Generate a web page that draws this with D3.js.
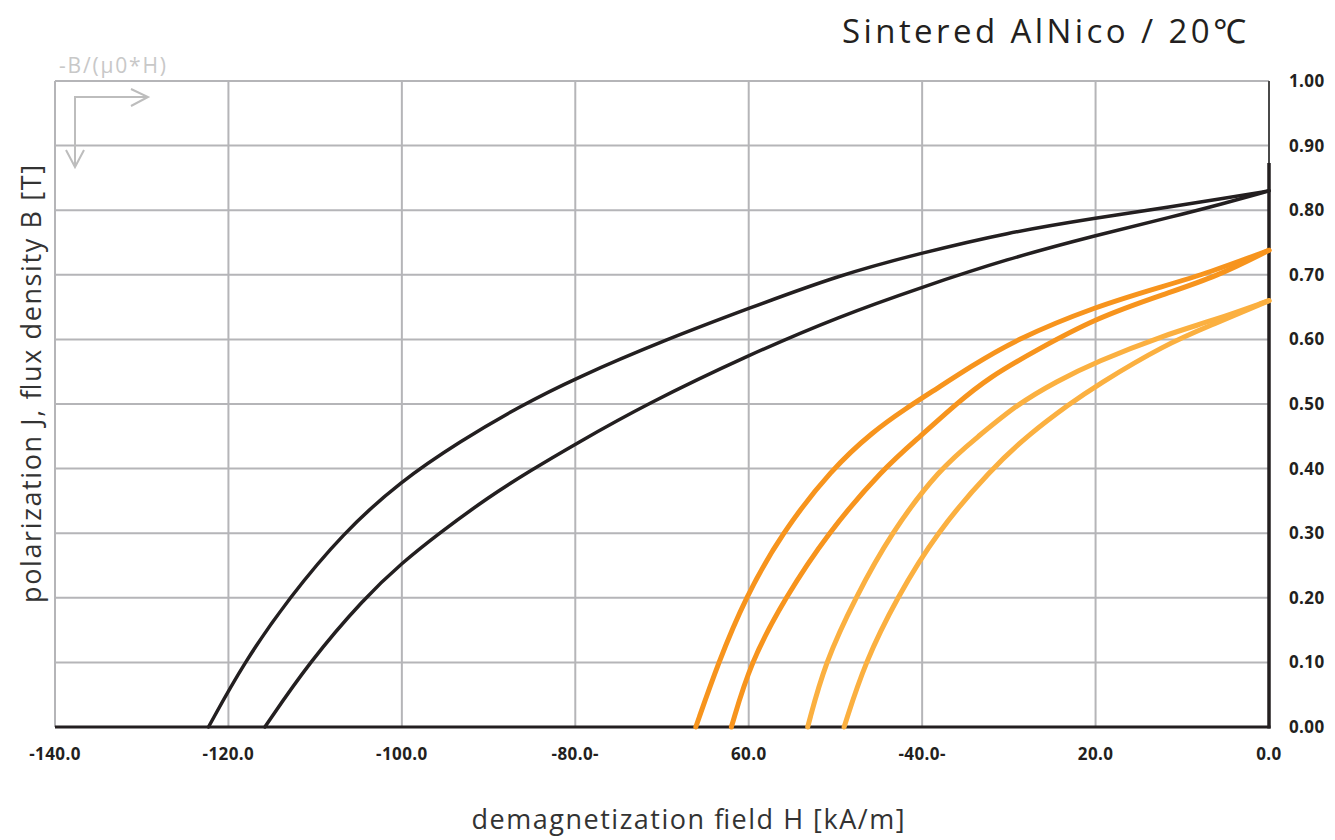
<!DOCTYPE html>
<html lang="en">
<head>
  <meta charset="UTF-8">
  <title>Sintered AlNico / 20℃</title>
  <script src="https://d3js.org/d3.v7.min.js"></script>
  <style>
    body {
      margin: 0;
      background: #fff;
      font-family: "Open Sans", "Noto Sans", sans-serif;
    }
    svg { display: block; }
    .grid line { stroke: #b5b5b8; stroke-width: 2; }
    .tick-label { font-weight: bold; font-size: 17px; fill: #231f20; letter-spacing: 0.4px; }
  </style>
</head>
<body>
  <svg id="chart" width="1335" height="840"></svg>

  <script>
    // ---- data: [H kA/m, B T] ----
    const blackOuter = [[-122.3, 0], [-118.2, 0.1], [-113.0, 0.2], [-106.8, 0.3], [-100.2, 0.38],
      [-93.2, 0.443], [-86.6, 0.495], [-80, 0.54], [-69.5, 0.6], [-60, 0.648], [-49.5, 0.7],
      [-40, 0.734], [-30.3, 0.765], [-20, 0.788], [-11, 0.806], [-5.3, 0.818], [0, 0.83]];
    const blackInner = [[-115.8, 0], [-110.7, 0.1], [-104.3, 0.2], [-100, 0.254], [-95.7, 0.3],
      [-90, 0.356], [-85.3, 0.396], [-80, 0.438], [-71.8, 0.5], [-60, 0.576], [-49.5, 0.636],
      [-40, 0.681], [-30.3, 0.724], [-20, 0.761], [-11.1, 0.79], [-5.3, 0.81], [0, 0.83]];
    const orangeOuter = [[-66.1, 0], [-63.5, 0.1], [-60.4, 0.2], [-56.2, 0.3], [-50.4, 0.4],
      [-45.6, 0.458], [-42.0, 0.492], [-38.4, 0.523], [-34.5, 0.557], [-29.2, 0.6],
      [-20, 0.651], [-12, 0.683], [-7, 0.703], [0, 0.738]];
    const orangeInner = [[-62.0, 0], [-59.8, 0.1], [-55.8, 0.2], [-50.9, 0.3], [-44.5, 0.4],
      [-40.2, 0.45], [-36.1, 0.5], [-32.2, 0.542], [-27, 0.582], [-20, 0.633],
      [-11.9, 0.671], [-6.1, 0.697], [0, 0.738]];
    const lightOuter = [[-53.2, 0], [-51.2, 0.1], [-47.7, 0.2], [-43.6, 0.3], [-38.0, 0.4],
      [-33.5, 0.45], [-29.0, 0.5], [-24.5, 0.535], [-20, 0.565], [-12, 0.607], [-6.5, 0.629],
      [0, 0.66]];
    const lightInner = [[-49.0, 0], [-46.6, 0.1], [-42.9, 0.2], [-38.4, 0.3], [-32.0, 0.4],
      [-27.5, 0.455], [-23.0, 0.5], [-20, 0.528], [-12, 0.592], [-6.5, 0.623], [0, 0.66]];

    const xTicks = [-140, -120, -100, -80, -60, -40, -20, 0];
    const xTickLabels = ["-140.0", "-120.0", "-100.0", "-80.0-", "60.0", "-40.0-", "20.0", "0.0"];
    const yTicks = [0, 0.1, 0.2, 0.3, 0.4, 0.5, 0.6, 0.7, 0.8, 0.9, 1.0];

    const svg = d3.select("#chart");

    // scales: plot area 55..1269 x 81..727
    const x = d3.scaleLinear().domain([-140, 0]).range([55, 1269]);
    const y = d3.scaleLinear().domain([0, 1]).range([727, 81]);

    // grid
    const grid = svg.append("g").attr("class", "grid");
    grid.selectAll(".gx").data(xTicks).enter().append("line")
      .attr("x1", d => x(d)).attr("x2", d => x(d))
      .attr("y1", y(1)).attr("y2", y(0));
    grid.selectAll(".gy").data(yTicks).enter().append("line")
      .attr("x1", x(-140)).attr("x2", x(0))
      .attr("y1", d => y(d)).attr("y2", d => y(d));

    // bottom axis line and right axis line
    svg.append("line")
      .attr("x1", x(-140)).attr("x2", x(0) + 1.5)
      .attr("y1", y(0)).attr("y2", y(0))
      .attr("stroke", "#231f20").attr("stroke-width", 3);
    svg.append("line")
      .attr("x1", x(0)).attr("x2", x(0))
      .attr("y1", y(1)).attr("y2", y(0.87))
      .attr("stroke", "#4a4a4a").attr("stroke-width", 2);
    svg.append("line")
      .attr("x1", x(0)).attr("x2", x(0))
      .attr("y1", y(0.873)).attr("y2", y(0) + 1.5)
      .attr("stroke", "#231f20").attr("stroke-width", 3.5);

    // tick labels
    svg.selectAll(".xl").data(xTicks).enter().append("text")
      .attr("class", "tick-label")
      .attr("x", d => x(d)).attr("y", 760)
      .attr("text-anchor", "middle")
      .text((d, i) => xTickLabels[i]);
    svg.selectAll(".yl").data(yTicks).enter().append("text")
      .attr("class", "tick-label")
      .attr("x", 1289).attr("y", d => y(d))
      .attr("dy", "0.35em")
      .text(d => d.toFixed(2));

    // curves: B-spline through the read points smooths out reading noise
    const line = d3.line()
      .x(d => x(d[0]))
      .y(d => y(d[1]))
      .curve(d3.curveBasis);

    const curves = [
      { data: blackOuter, color: "#231f20", width: 3.5 },
      { data: blackInner, color: "#231f20", width: 3.5 },
      { data: lightOuter, color: "#fbb040", width: 5 },
      { data: lightInner, color: "#fbb040", width: 5 },
      { data: orangeOuter, color: "#f7941d", width: 5 },
      { data: orangeInner, color: "#f7941d", width: 5 }
    ];
    curves.forEach(c => {
      svg.append("path")
        .datum(c.data)
        .attr("fill", "none")
        .attr("stroke", c.color)
        .attr("stroke-width", c.width)
        .attr("stroke-linecap", "round")
        .attr("stroke-linejoin", "round")
        .attr("d", line);
    });

    // title
    svg.append("text")
      .attr("x", 1246).attr("y", 43)
      .attr("text-anchor", "end")
      .attr("font-size", 33)
      .attr("fill", "#231f20")
      .attr("textLength", 404)
      .attr("lengthAdjust", "spacing")
      .text("Sintered AlNico / 20℃");

    // axis titles
    svg.append("text")
      .attr("transform", "translate(41,384) rotate(-90)")
      .attr("text-anchor", "middle")
      .attr("font-size", 27)
      .attr("fill", "#333")
      .attr("textLength", 438)
      .attr("lengthAdjust", "spacing")
      .text("polarization J, flux density B [T]");
    svg.append("text")
      .attr("x", 688).attr("y", 829)
      .attr("text-anchor", "middle")
      .attr("font-size", 27)
      .attr("fill", "#333")
      .attr("textLength", 433)
      .attr("lengthAdjust", "spacing")
      .text("demagnetization field H [kA/m]");

    // load line direction hint, top left
    svg.append("text")
      .attr("x", 59).attr("y", 73)
      .attr("font-size", 21)
      .attr("fill", "#c8c8c8")
      .attr("textLength", 107)
      .attr("lengthAdjust", "spacing")
      .text("-B/(μ0*H)");
    const hint = svg.append("g")
      .attr("fill", "none")
      .attr("stroke", "#bdbdbd")
      .attr("stroke-width", 2);
    hint.append("path").attr("d", "M75,167 V97 H148");
    hint.append("path").attr("d", "M131,89 L148,97 L131,106");
    hint.append("path").attr("d", "M66,150 L75,167 L84,150");
  </script>
</body>
</html>
